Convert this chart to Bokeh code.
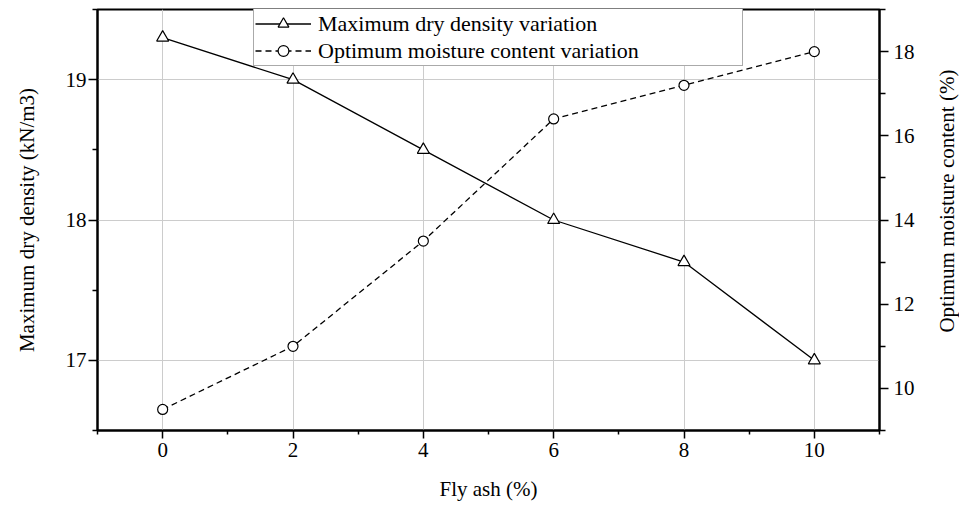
import math
from bokeh.plotting import figure
from bokeh.layouts import row
from bokeh.models import (Range1d, LinearAxis, FixedTicker, Legend, LegendItem)
from bokeh.core.properties import value
from bokeh.embed import file_html
from bokeh.resources import INLINE

fly_ash = [0, 2, 4, 6, 8, 10]
max_dry_density = [19.3, 19.0, 18.5, 18.0, 17.7, 17.0]
optimum_moisture = [9.5, 11.0, 13.5, 16.4, 17.2, 18.0]

x_major = [0, 2, 4, 6, 8, 10]
x_minor = [-1, 1, 3, 5, 7, 9, 11]
left_major = [17, 18, 19]
left_minor = [16.5, 17.5, 18.5, 19.5]
right_major = [10, 12, 14, 16, 18]
right_minor = [9, 11, 13, 15, 17, 19]

x_title = "Fly ash (%)"
left_title = "Maximum dry density (kN/m3)"
right_title = "Optimum moisture content (%)"

FONT = "Liberation Serif"
FS = "21px"

p = figure(frame_width=782, frame_height=421, output_backend="svg",
           toolbar_location=None, x_range=Range1d(-1, 11), y_range=Range1d(16.5, 19.5),
           min_border_left=97, min_border_top=9, min_border_right=38, min_border_bottom=72,
           background_fill_color="white", border_fill_color="white")
p.outline_line_color = "black"
p.outline_line_width = 2

p.extra_y_ranges = {"moist": Range1d(9, 19)}
raxis = LinearAxis(y_range_name="moist")
p.add_layout(raxis, "right")

p.xaxis.ticker = FixedTicker(ticks=x_major, minor_ticks=x_minor)
p.yaxis[0].ticker = FixedTicker(ticks=left_major, minor_ticks=left_minor)
raxis.ticker = FixedTicker(ticks=right_major, minor_ticks=right_minor)

p.xaxis.axis_label = x_title
p.yaxis[0].axis_label = left_title

for ax in [p.xaxis[0], p.yaxis[0], raxis]:
    ax.axis_line_width = 2
    ax.axis_line_color = "black"
    ax.major_tick_line_width = 1.5
    ax.minor_tick_line_width = 1.5
    ax.major_tick_line_color = "black"
    ax.minor_tick_line_color = "black"
    ax.major_tick_in = 0
    ax.minor_tick_in = 0
    ax.major_label_text_font = FONT
    ax.major_label_text_font_size = FS
    ax.major_label_text_color = "black"
    ax.axis_label_text_font = FONT
    ax.axis_label_text_font_size = FS
    ax.axis_label_text_font_style = "normal"
    ax.axis_label_text_color = "black"

p.xaxis.major_tick_out = 8
p.xaxis.minor_tick_out = 4
p.xaxis.major_label_standoff = 4
p.xaxis.axis_label_standoff = 17
p.yaxis[0].major_tick_out = 9
p.yaxis[0].minor_tick_out = 5
p.yaxis[0].major_label_standoff = 2
p.yaxis[0].axis_label_standoff = 24
raxis.major_tick_out = 9
raxis.minor_tick_out = 6
raxis.major_label_standoff = 5

p.xgrid.ticker = FixedTicker(ticks=x_major)
p.ygrid.ticker = FixedTicker(ticks=left_major)
p.xgrid.grid_line_color = "#cccccc"
p.ygrid.grid_line_color = "#cccccc"
p.xgrid.grid_line_width = 1
p.ygrid.grid_line_width = 1

l1 = p.line(fly_ash, max_dry_density, line_color="black", line_width=1.3)
s1 = p.scatter(fly_ash, max_dry_density, marker="triangle", size=12,
               line_color="black", fill_color="white", line_width=1.2)
l2 = p.line(fly_ash, optimum_moisture, line_color="black", line_width=1.3,
            line_dash="6 4", y_range_name="moist")
s2 = p.scatter(fly_ash, optimum_moisture, marker="circle", size=10,
               line_color="black", fill_color="white", line_width=1.2,
               y_range_name="moist")

legend = Legend(items=[
    LegendItem(label="Maximum dry density variation", renderers=[l1, s1]),
    LegendItem(label="Optimum moisture content variation", renderers=[l2, s2]),
], location=(156, 364))
legend.label_text_font = FONT
legend.label_text_font_size = "22px"
legend.label_text_color = "black"
legend.border_line_color = "#555555"
legend.border_line_width = 1.5
legend.background_fill_color = "white"
legend.background_fill_alpha = 1
legend.padding = 1
legend.margin = 0
legend.spacing = 0
legend.glyph_width = 56
legend.glyph_height = 27
legend.label_height = 27
legend.label_standoff = 7
legend.label_width = 423
p.add_layout(legend, "center")

# narrow strip holding the right-hand axis title, reading bottom-to-top
p2 = figure(width=42, height=502, output_backend="svg", toolbar_location=None,
            x_range=Range1d(0, 42), y_range=Range1d(0, 502),
            x_axis_location=None, y_axis_location=None,
            min_border=0, min_border_left=0, min_border_right=0,
            min_border_top=0, min_border_bottom=0,
            background_fill_color="white", border_fill_color="white")
p2.grid.visible = False
p2.outline_line_color = None
p2.text(x=[29], y=[273], text=[right_title], angle=math.pi / 2,
        text_align="center", text_baseline="middle",
        text_font=value(FONT), text_font_size=FS, text_color="black")

layout = row(p, p2, spacing=0)
open("out.html", "w").write(file_html(layout, INLINE))
